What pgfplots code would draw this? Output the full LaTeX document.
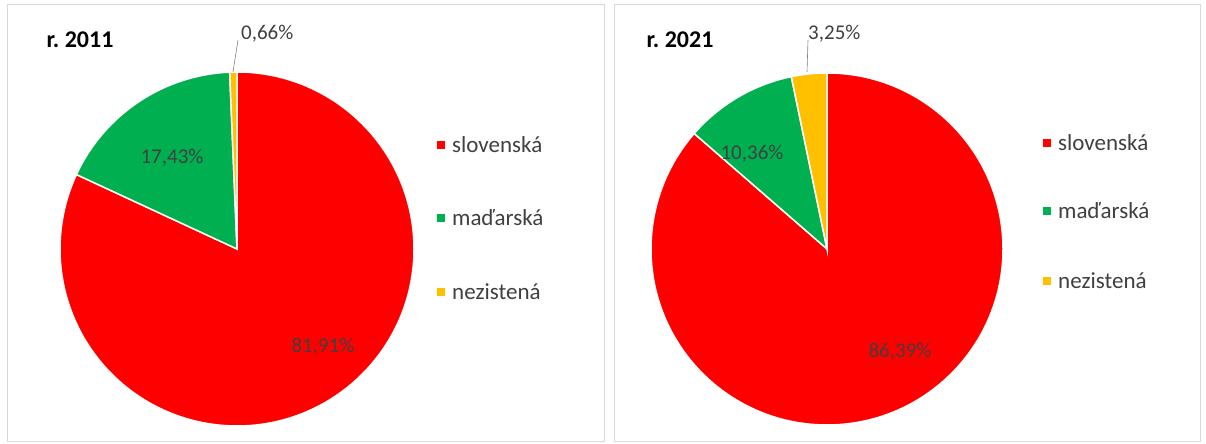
\documentclass[border=0pt]{standalone}
\usepackage{pgfplots}
\pgfplotsset{compat=1.18}
\usepackage{fontspec}
\setmainfont{Carlito}
\definecolor{skred}{HTML}{FF0000}
\definecolor{skgreen}{HTML}{00B050}
\definecolor{skyellow}{HTML}{FFC000}
\definecolor{txt}{HTML}{404040}
\definecolor{frm}{HTML}{D9D9D9}
% #1 cx, #2 cy, #3 radius, #4 cumulative percent before, #5 percent, #6 colour
\newcommand\pieslice[6]{%
  \pgfmathsetmacro\sa{90-3.6*#4}\pgfmathsetmacro\ea{90-3.6*(#4+#5)}%
  \edef\doslice{\noexpand\fill[#6,draw=white,line width=1.5bp] (axis cs:#1,#2) -- ++(\sa:#3bp)
     arc[start angle=\sa,end angle=\ea,radius=#3bp] -- cycle;}\doslice}
\newcommand\lab{\fontsize{21bp}{25bp}\selectfont\color{txt}}
\newcommand\leg{\fontsize{23bp}{27bp}\selectfont\color{txt}}
\begin{document}
\begin{tikzpicture}
\begin{axis}[x=1bp,y=1bp,xmin=0,xmax=1206,ymin=0,ymax=444,
  hide axis,clip=false,scale only axis]
\path (axis cs:0,0) rectangle (axis cs:1206,444);
% panels
\draw[frm,line width=1bp] (axis cs:7,2) rectangle (axis cs:604,439);
\draw[frm,line width=1bp] (axis cs:614,2) rectangle (axis cs:1200,439);
% ---- r. 2011: slovenská 81.91, maďarská 17.43, nezistená 0.66
\pieslice{237}{195}{177}{0}{81.91}{skred}
\pieslice{237}{195}{177}{81.91}{17.43}{skgreen}
\pieslice{237}{195}{177}{99.34}{0.66}{skyellow}
\node[anchor=west,font=\fontsize{24bp}{28bp}\selectfont\bfseries] at (axis cs:43,404) {r.\ 2011};
\draw[gray,line width=0.6bp] (axis cs:233,372) -- (axis cs:238,404);
\node[anchor=west,inner sep=0pt] at (axis cs:241,410) {\lab 0,66\%};
\node[inner sep=0pt] at (axis cs:172,286) {\lab 17,43\%};
\node[inner sep=0pt] at (axis cs:323,97) {\lab 81,91\%};
\fill[skred] (axis cs:437,295) rectangle (axis cs:445,303);
\fill[skgreen] (axis cs:437,222) rectangle (axis cs:445,230);
\fill[skyellow] (axis cs:437,148) rectangle (axis cs:445,156);
\node[anchor=west,inner sep=0pt] at (axis cs:452,299) {\leg slovenská};
\node[anchor=west,inner sep=0pt] at (axis cs:452,226) {\leg maďarská};
\node[anchor=west,inner sep=0pt] at (axis cs:452,152) {\leg nezistená};
% ---- r. 2021: slovenská 86.39, maďarská 10.36, nezistená 3.25
\pieslice{827}{195}{176}{0}{86.39}{skred}
\pieslice{827}{195}{176}{86.39}{10.36}{skgreen}
\pieslice{827}{195}{176}{96.75}{3.25}{skyellow}
\node[anchor=west,font=\fontsize{24bp}{28bp}\selectfont\bfseries] at (axis cs:643,404) {r.\ 2021};
\draw[gray,line width=0.6bp] (axis cs:807,372) -- (axis cs:808,404);
\node[anchor=west,inner sep=0pt] at (axis cs:808,410) {\lab 3,25\%};
\node[inner sep=0pt] at (axis cs:752,290) {\lab 10,36\%};
\node[inner sep=0pt] at (axis cs:900,92) {\lab 86,39\%};
\fill[skred] (axis cs:1043,297) rectangle (axis cs:1051,305);
\fill[skgreen] (axis cs:1043,229) rectangle (axis cs:1051,237);
\fill[skyellow] (axis cs:1043,159) rectangle (axis cs:1051,167);
\node[anchor=west,inner sep=0pt] at (axis cs:1058,301) {\leg slovenská};
\node[anchor=west,inner sep=0pt] at (axis cs:1058,233) {\leg maďarská};
\node[anchor=west,inner sep=0pt] at (axis cs:1058,163) {\leg nezistená};
\end{axis}
\end{tikzpicture}
\end{document}
